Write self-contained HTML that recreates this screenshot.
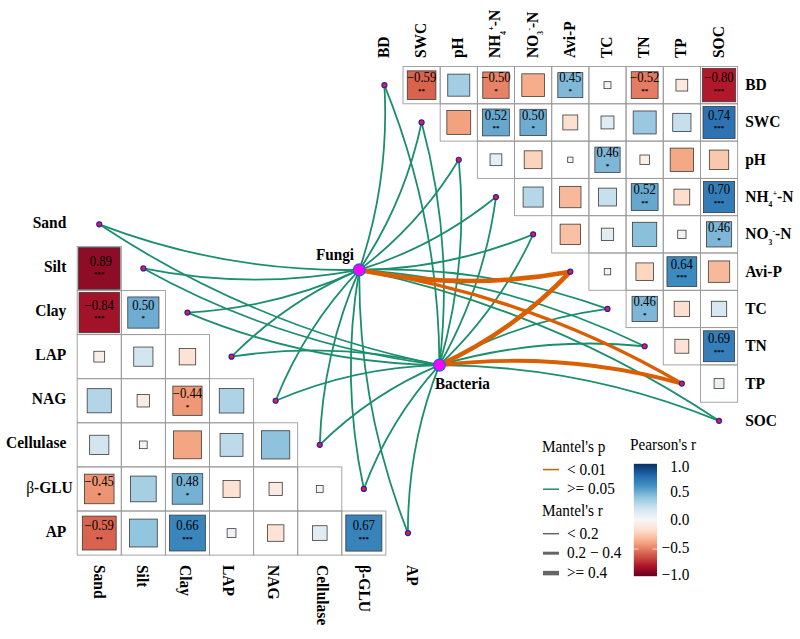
<!DOCTYPE html>
<html><head><meta charset="utf-8"><title>Mantel test correlation heatmap</title>
<style>
html,body{margin:0;padding:0;background:#fff;}
body{width:800px;height:639px;overflow:hidden;}
svg{display:block;}
text{font-family:"Liberation Serif","Times New Roman",serif;fill:#000;}
.v{font-size:12.7px;text-anchor:middle;}
.s{font-size:7px;text-anchor:middle;font-weight:bold;}
.ax{font-size:15.5px;font-weight:bold;}
.sb{font-size:7.5px;}
.sp{font-size:7.5px;}
.nd{font-size:15.2px;font-weight:bold;}
.lg{font-size:15.3px;}
</style></head>
<body>
<svg width="800" height="639" viewBox="0 0 800 639">
<rect width="800" height="639" fill="#fff"/>
<rect x="403.00" y="66.50" width="37.18" height="37.30" fill="none" stroke="#9a9a9a" stroke-width="0.9"/>
<rect x="440.18" y="66.50" width="37.18" height="37.30" fill="none" stroke="#9a9a9a" stroke-width="0.9"/>
<rect x="477.36" y="66.50" width="37.18" height="37.30" fill="none" stroke="#9a9a9a" stroke-width="0.9"/>
<rect x="514.54" y="66.50" width="37.18" height="37.30" fill="none" stroke="#9a9a9a" stroke-width="0.9"/>
<rect x="551.72" y="66.50" width="37.18" height="37.30" fill="none" stroke="#9a9a9a" stroke-width="0.9"/>
<rect x="588.90" y="66.50" width="37.18" height="37.30" fill="none" stroke="#9a9a9a" stroke-width="0.9"/>
<rect x="626.08" y="66.50" width="37.18" height="37.30" fill="none" stroke="#9a9a9a" stroke-width="0.9"/>
<rect x="663.26" y="66.50" width="37.18" height="37.30" fill="none" stroke="#9a9a9a" stroke-width="0.9"/>
<rect x="700.44" y="66.50" width="37.18" height="37.30" fill="none" stroke="#9a9a9a" stroke-width="0.9"/>
<rect x="440.18" y="103.80" width="37.18" height="37.30" fill="none" stroke="#9a9a9a" stroke-width="0.9"/>
<rect x="477.36" y="103.80" width="37.18" height="37.30" fill="none" stroke="#9a9a9a" stroke-width="0.9"/>
<rect x="514.54" y="103.80" width="37.18" height="37.30" fill="none" stroke="#9a9a9a" stroke-width="0.9"/>
<rect x="551.72" y="103.80" width="37.18" height="37.30" fill="none" stroke="#9a9a9a" stroke-width="0.9"/>
<rect x="588.90" y="103.80" width="37.18" height="37.30" fill="none" stroke="#9a9a9a" stroke-width="0.9"/>
<rect x="626.08" y="103.80" width="37.18" height="37.30" fill="none" stroke="#9a9a9a" stroke-width="0.9"/>
<rect x="663.26" y="103.80" width="37.18" height="37.30" fill="none" stroke="#9a9a9a" stroke-width="0.9"/>
<rect x="700.44" y="103.80" width="37.18" height="37.30" fill="none" stroke="#9a9a9a" stroke-width="0.9"/>
<rect x="477.36" y="141.10" width="37.18" height="37.30" fill="none" stroke="#9a9a9a" stroke-width="0.9"/>
<rect x="514.54" y="141.10" width="37.18" height="37.30" fill="none" stroke="#9a9a9a" stroke-width="0.9"/>
<rect x="551.72" y="141.10" width="37.18" height="37.30" fill="none" stroke="#9a9a9a" stroke-width="0.9"/>
<rect x="588.90" y="141.10" width="37.18" height="37.30" fill="none" stroke="#9a9a9a" stroke-width="0.9"/>
<rect x="626.08" y="141.10" width="37.18" height="37.30" fill="none" stroke="#9a9a9a" stroke-width="0.9"/>
<rect x="663.26" y="141.10" width="37.18" height="37.30" fill="none" stroke="#9a9a9a" stroke-width="0.9"/>
<rect x="700.44" y="141.10" width="37.18" height="37.30" fill="none" stroke="#9a9a9a" stroke-width="0.9"/>
<rect x="514.54" y="178.40" width="37.18" height="37.30" fill="none" stroke="#9a9a9a" stroke-width="0.9"/>
<rect x="551.72" y="178.40" width="37.18" height="37.30" fill="none" stroke="#9a9a9a" stroke-width="0.9"/>
<rect x="588.90" y="178.40" width="37.18" height="37.30" fill="none" stroke="#9a9a9a" stroke-width="0.9"/>
<rect x="626.08" y="178.40" width="37.18" height="37.30" fill="none" stroke="#9a9a9a" stroke-width="0.9"/>
<rect x="663.26" y="178.40" width="37.18" height="37.30" fill="none" stroke="#9a9a9a" stroke-width="0.9"/>
<rect x="700.44" y="178.40" width="37.18" height="37.30" fill="none" stroke="#9a9a9a" stroke-width="0.9"/>
<rect x="551.72" y="215.70" width="37.18" height="37.30" fill="none" stroke="#9a9a9a" stroke-width="0.9"/>
<rect x="588.90" y="215.70" width="37.18" height="37.30" fill="none" stroke="#9a9a9a" stroke-width="0.9"/>
<rect x="626.08" y="215.70" width="37.18" height="37.30" fill="none" stroke="#9a9a9a" stroke-width="0.9"/>
<rect x="663.26" y="215.70" width="37.18" height="37.30" fill="none" stroke="#9a9a9a" stroke-width="0.9"/>
<rect x="700.44" y="215.70" width="37.18" height="37.30" fill="none" stroke="#9a9a9a" stroke-width="0.9"/>
<rect x="588.90" y="253.00" width="37.18" height="37.30" fill="none" stroke="#9a9a9a" stroke-width="0.9"/>
<rect x="626.08" y="253.00" width="37.18" height="37.30" fill="none" stroke="#9a9a9a" stroke-width="0.9"/>
<rect x="663.26" y="253.00" width="37.18" height="37.30" fill="none" stroke="#9a9a9a" stroke-width="0.9"/>
<rect x="700.44" y="253.00" width="37.18" height="37.30" fill="none" stroke="#9a9a9a" stroke-width="0.9"/>
<rect x="626.08" y="290.30" width="37.18" height="37.30" fill="none" stroke="#9a9a9a" stroke-width="0.9"/>
<rect x="663.26" y="290.30" width="37.18" height="37.30" fill="none" stroke="#9a9a9a" stroke-width="0.9"/>
<rect x="700.44" y="290.30" width="37.18" height="37.30" fill="none" stroke="#9a9a9a" stroke-width="0.9"/>
<rect x="663.26" y="327.60" width="37.18" height="37.30" fill="none" stroke="#9a9a9a" stroke-width="0.9"/>
<rect x="700.44" y="327.60" width="37.18" height="37.30" fill="none" stroke="#9a9a9a" stroke-width="0.9"/>
<rect x="700.44" y="364.90" width="37.18" height="37.30" fill="none" stroke="#9a9a9a" stroke-width="0.9"/>
<rect x="407.29" y="70.85" width="28.60" height="28.60" fill="#d86450" stroke="#3a3a3a" stroke-width="0.8"/>
<text transform="translate(421.59 82.35) scale(1 1.1)" class="v">−0.59</text>
<text x="421.59" y="92.95" class="s">**</text>
<rect x="447.75" y="74.13" width="22.03" height="22.03" fill="#a2cde3" stroke="#3a3a3a" stroke-width="0.8"/>
<rect x="482.78" y="71.98" width="26.33" height="26.33" fill="#e68367" stroke="#3a3a3a" stroke-width="0.8"/>
<text transform="translate(495.95 82.35) scale(1 1.1)" class="v">−0.50</text>
<text x="495.95" y="92.95" class="s">*</text>
<rect x="521.80" y="73.82" width="22.65" height="22.65" fill="#f6ad8c" stroke="#3a3a3a" stroke-width="0.8"/>
<rect x="557.82" y="72.66" width="24.98" height="24.98" fill="#80b8d7" stroke="#3a3a3a" stroke-width="0.8"/>
<text transform="translate(570.31 82.35) scale(1 1.1)" class="v">0.45</text>
<text x="570.31" y="92.95" class="s">*</text>
<rect x="604.01" y="81.67" width="6.97" height="6.97" fill="#f0f4f6" stroke="#3a3a3a" stroke-width="0.8"/>
<rect x="631.24" y="71.72" width="26.85" height="26.85" fill="#e37c62" stroke="#3a3a3a" stroke-width="0.8"/>
<text transform="translate(644.67 82.35) scale(1 1.1)" class="v">−0.52</text>
<text x="644.67" y="92.95" class="s">**</text>
<rect x="675.96" y="79.26" width="11.78" height="11.78" fill="#fbe9df" stroke="#3a3a3a" stroke-width="0.8"/>
<rect x="702.38" y="68.50" width="33.31" height="33.31" fill="#b2182b" stroke="#3a3a3a" stroke-width="0.8"/>
<text transform="translate(719.03 82.35) scale(1 1.1)" class="v">−0.80</text>
<text x="719.03" y="92.95" class="s">***</text>
<rect x="446.85" y="110.53" width="23.85" height="23.85" fill="#f3a27f" stroke="#3a3a3a" stroke-width="0.8"/>
<rect x="482.52" y="109.02" width="26.85" height="26.85" fill="#66a7ce" stroke="#3a3a3a" stroke-width="0.8"/>
<text transform="translate(495.95 119.65) scale(1 1.1)" class="v">0.52</text>
<text x="495.95" y="130.25" class="s">**</text>
<rect x="519.96" y="109.28" width="26.33" height="26.33" fill="#6eacd1" stroke="#3a3a3a" stroke-width="0.8"/>
<text transform="translate(533.13 119.65) scale(1 1.1)" class="v">0.50</text>
<text x="533.13" y="130.25" class="s">*</text>
<rect x="562.86" y="115.00" width="14.90" height="14.90" fill="#fce1d0" stroke="#3a3a3a" stroke-width="0.8"/>
<rect x="601.04" y="116.00" width="12.90" height="12.90" fill="#e0ecf3" stroke="#3a3a3a" stroke-width="0.8"/>
<rect x="633.19" y="110.97" width="22.96" height="22.96" fill="#99c8e0" stroke="#3a3a3a" stroke-width="0.8"/>
<rect x="672.73" y="113.33" width="18.24" height="18.24" fill="#c5dfec" stroke="#3a3a3a" stroke-width="0.8"/>
<rect x="703.01" y="106.43" width="32.04" height="32.04" fill="#2d73b3" stroke="#3a3a3a" stroke-width="0.8"/>
<text transform="translate(719.03 119.65) scale(1 1.1)" class="v">0.74</text>
<text x="719.03" y="130.25" class="s">***</text>
<rect x="490.06" y="153.86" width="11.78" height="11.78" fill="#e4eef4" stroke="#3a3a3a" stroke-width="0.8"/>
<rect x="524.20" y="150.82" width="17.86" height="17.86" fill="#fcd3bc" stroke="#3a3a3a" stroke-width="0.8"/>
<rect x="567.68" y="157.12" width="5.27" height="5.27" fill="#f3f5f6" stroke="#3a3a3a" stroke-width="0.8"/>
<rect x="594.86" y="147.12" width="25.26" height="25.26" fill="#7db6d6" stroke="#3a3a3a" stroke-width="0.8"/>
<text transform="translate(607.49 156.95) scale(1 1.1)" class="v">0.46</text>
<text x="607.49" y="167.55" class="s">*</text>
<rect x="639.92" y="155.00" width="9.49" height="9.49" fill="#faeee7" stroke="#3a3a3a" stroke-width="0.8"/>
<rect x="670.22" y="148.12" width="23.26" height="23.26" fill="#f5a885" stroke="#3a3a3a" stroke-width="0.8"/>
<rect x="709.35" y="150.07" width="19.35" height="19.35" fill="#fbc8ae" stroke="#3a3a3a" stroke-width="0.8"/>
<rect x="523.10" y="187.02" width="20.05" height="20.05" fill="#b5d7e8" stroke="#3a3a3a" stroke-width="0.8"/>
<rect x="559.61" y="186.35" width="21.39" height="21.39" fill="#f8b89a" stroke="#3a3a3a" stroke-width="0.8"/>
<rect x="598.56" y="188.12" width="17.86" height="17.86" fill="#c8e0ed" stroke="#3a3a3a" stroke-width="0.8"/>
<rect x="631.24" y="183.62" width="26.85" height="26.85" fill="#66a7ce" stroke="#3a3a3a" stroke-width="0.8"/>
<text transform="translate(644.67 194.25) scale(1 1.1)" class="v">0.52</text>
<text x="644.67" y="204.85" class="s">**</text>
<rect x="673.95" y="189.15" width="15.80" height="15.80" fill="#fddecc" stroke="#3a3a3a" stroke-width="0.8"/>
<rect x="703.45" y="181.47" width="31.16" height="31.16" fill="#347cb8" stroke="#3a3a3a" stroke-width="0.8"/>
<text transform="translate(719.03 194.25) scale(1 1.1)" class="v">0.70</text>
<text x="719.03" y="204.85" class="s">***</text>
<rect x="560.11" y="224.15" width="20.40" height="20.40" fill="#fac0a4" stroke="#3a3a3a" stroke-width="0.8"/>
<rect x="601.31" y="228.17" width="12.35" height="12.35" fill="#e2edf3" stroke="#3a3a3a" stroke-width="0.8"/>
<rect x="632.60" y="222.28" width="24.13" height="24.13" fill="#8bc0db" stroke="#3a3a3a" stroke-width="0.8"/>
<rect x="677.69" y="230.19" width="8.33" height="8.33" fill="#eef2f5" stroke="#3a3a3a" stroke-width="0.8"/>
<rect x="706.40" y="221.72" width="25.26" height="25.26" fill="#7db6d6" stroke="#3a3a3a" stroke-width="0.8"/>
<text transform="translate(719.03 231.55) scale(1 1.1)" class="v">0.46</text>
<text x="719.03" y="242.15" class="s">*</text>
<rect x="604.26" y="268.42" width="6.45" height="6.45" fill="#f1f4f6" stroke="#3a3a3a" stroke-width="0.8"/>
<rect x="635.94" y="262.92" width="17.47" height="17.47" fill="#fdd6c0" stroke="#3a3a3a" stroke-width="0.8"/>
<rect x="666.95" y="256.75" width="29.79" height="29.79" fill="#3d8abe" stroke="#3a3a3a" stroke-width="0.8"/>
<text transform="translate(681.85 268.85) scale(1 1.1)" class="v">0.64</text>
<text x="681.85" y="279.45" class="s">***</text>
<rect x="708.33" y="260.95" width="21.39" height="21.39" fill="#f8b89a" stroke="#3a3a3a" stroke-width="0.8"/>
<rect x="632.04" y="296.32" width="25.26" height="25.26" fill="#7db6d6" stroke="#3a3a3a" stroke-width="0.8"/>
<text transform="translate(644.67 306.15) scale(1 1.1)" class="v">0.46</text>
<text x="644.67" y="316.75" class="s">*</text>
<rect x="674.17" y="301.27" width="15.35" height="15.35" fill="#fcdfce" stroke="#3a3a3a" stroke-width="0.8"/>
<rect x="711.35" y="301.27" width="15.35" height="15.35" fill="#d7e8f1" stroke="#3a3a3a" stroke-width="0.8"/>
<rect x="674.88" y="339.28" width="13.93" height="13.93" fill="#fce3d5" stroke="#3a3a3a" stroke-width="0.8"/>
<rect x="703.56" y="330.78" width="30.93" height="30.93" fill="#367eb9" stroke="#3a3a3a" stroke-width="0.8"/>
<text transform="translate(719.03 343.45) scale(1 1.1)" class="v">0.69</text>
<text x="719.03" y="354.05" class="s">***</text>
<rect x="714.10" y="378.62" width="9.85" height="9.85" fill="#eaf1f5" stroke="#3a3a3a" stroke-width="0.8"/>
<rect x="77.20" y="246.40" width="44.10" height="44.10" fill="none" stroke="#9a9a9a" stroke-width="0.9"/>
<rect x="77.20" y="290.50" width="44.10" height="44.10" fill="none" stroke="#9a9a9a" stroke-width="0.9"/>
<rect x="121.30" y="290.50" width="44.10" height="44.10" fill="none" stroke="#9a9a9a" stroke-width="0.9"/>
<rect x="77.20" y="334.60" width="44.10" height="44.10" fill="none" stroke="#9a9a9a" stroke-width="0.9"/>
<rect x="121.30" y="334.60" width="44.10" height="44.10" fill="none" stroke="#9a9a9a" stroke-width="0.9"/>
<rect x="165.40" y="334.60" width="44.10" height="44.10" fill="none" stroke="#9a9a9a" stroke-width="0.9"/>
<rect x="77.20" y="378.70" width="44.10" height="44.10" fill="none" stroke="#9a9a9a" stroke-width="0.9"/>
<rect x="121.30" y="378.70" width="44.10" height="44.10" fill="none" stroke="#9a9a9a" stroke-width="0.9"/>
<rect x="165.40" y="378.70" width="44.10" height="44.10" fill="none" stroke="#9a9a9a" stroke-width="0.9"/>
<rect x="209.50" y="378.70" width="44.10" height="44.10" fill="none" stroke="#9a9a9a" stroke-width="0.9"/>
<rect x="77.20" y="422.80" width="44.10" height="44.10" fill="none" stroke="#9a9a9a" stroke-width="0.9"/>
<rect x="121.30" y="422.80" width="44.10" height="44.10" fill="none" stroke="#9a9a9a" stroke-width="0.9"/>
<rect x="165.40" y="422.80" width="44.10" height="44.10" fill="none" stroke="#9a9a9a" stroke-width="0.9"/>
<rect x="209.50" y="422.80" width="44.10" height="44.10" fill="none" stroke="#9a9a9a" stroke-width="0.9"/>
<rect x="253.60" y="422.80" width="44.10" height="44.10" fill="none" stroke="#9a9a9a" stroke-width="0.9"/>
<rect x="77.20" y="466.90" width="44.10" height="44.10" fill="none" stroke="#9a9a9a" stroke-width="0.9"/>
<rect x="121.30" y="466.90" width="44.10" height="44.10" fill="none" stroke="#9a9a9a" stroke-width="0.9"/>
<rect x="165.40" y="466.90" width="44.10" height="44.10" fill="none" stroke="#9a9a9a" stroke-width="0.9"/>
<rect x="209.50" y="466.90" width="44.10" height="44.10" fill="none" stroke="#9a9a9a" stroke-width="0.9"/>
<rect x="253.60" y="466.90" width="44.10" height="44.10" fill="none" stroke="#9a9a9a" stroke-width="0.9"/>
<rect x="297.70" y="466.90" width="44.10" height="44.10" fill="none" stroke="#9a9a9a" stroke-width="0.9"/>
<rect x="77.20" y="511.00" width="44.10" height="44.10" fill="none" stroke="#9a9a9a" stroke-width="0.9"/>
<rect x="121.30" y="511.00" width="44.10" height="44.10" fill="none" stroke="#9a9a9a" stroke-width="0.9"/>
<rect x="165.40" y="511.00" width="44.10" height="44.10" fill="none" stroke="#9a9a9a" stroke-width="0.9"/>
<rect x="209.50" y="511.00" width="44.10" height="44.10" fill="none" stroke="#9a9a9a" stroke-width="0.9"/>
<rect x="253.60" y="511.00" width="44.10" height="44.10" fill="none" stroke="#9a9a9a" stroke-width="0.9"/>
<rect x="297.70" y="511.00" width="44.10" height="44.10" fill="none" stroke="#9a9a9a" stroke-width="0.9"/>
<rect x="341.80" y="511.00" width="44.10" height="44.10" fill="none" stroke="#9a9a9a" stroke-width="0.9"/>
<rect x="78.45" y="247.65" width="41.60" height="41.60" fill="#8f0c26" stroke="#3a3a3a" stroke-width="0.8"/>
<text transform="translate(100.85 265.65) scale(1 1.1)" class="v">0.89</text>
<text x="99.25" y="276.25" class="s">***</text>
<rect x="79.04" y="292.34" width="40.42" height="40.42" fill="#a21329" stroke="#3a3a3a" stroke-width="0.8"/>
<text transform="translate(99.25 309.75) scale(1 1.1)" class="v">−0.84</text>
<text x="99.25" y="320.35" class="s">***</text>
<rect x="127.76" y="296.96" width="31.18" height="31.18" fill="#6eacd1" stroke="#3a3a3a" stroke-width="0.8"/>
<text transform="translate(143.35 309.75) scale(1 1.1)" class="v">0.50</text>
<text x="143.35" y="320.35" class="s">*</text>
<rect x="93.85" y="351.25" width="10.80" height="10.80" fill="#f9efe8" stroke="#3a3a3a" stroke-width="0.8"/>
<rect x="133.74" y="347.04" width="19.22" height="19.22" fill="#d3e6f0" stroke="#3a3a3a" stroke-width="0.8"/>
<rect x="179.20" y="348.40" width="16.50" height="16.50" fill="#fce3d5" stroke="#3a3a3a" stroke-width="0.8"/>
<rect x="87.17" y="388.67" width="24.15" height="24.15" fill="#b2d5e7" stroke="#3a3a3a" stroke-width="0.8"/>
<rect x="137.11" y="394.51" width="12.47" height="12.47" fill="#faece4" stroke="#3a3a3a" stroke-width="0.8"/>
<rect x="172.82" y="386.12" width="29.25" height="29.25" fill="#ef9777" stroke="#3a3a3a" stroke-width="0.8"/>
<text transform="translate(187.45 397.95) scale(1 1.1)" class="v">−0.44</text>
<text x="187.45" y="408.55" class="s">*</text>
<rect x="219.27" y="388.47" width="24.55" height="24.55" fill="#afd3e6" stroke="#3a3a3a" stroke-width="0.8"/>
<rect x="89.64" y="435.24" width="19.22" height="19.22" fill="#d3e6f0" stroke="#3a3a3a" stroke-width="0.8"/>
<rect x="139.53" y="441.03" width="7.64" height="7.64" fill="#f1f4f6" stroke="#3a3a3a" stroke-width="0.8"/>
<rect x="173.50" y="430.90" width="27.89" height="27.89" fill="#f4a582" stroke="#3a3a3a" stroke-width="0.8"/>
<rect x="220.09" y="433.39" width="22.92" height="22.92" fill="#bcdaea" stroke="#3a3a3a" stroke-width="0.8"/>
<rect x="261.53" y="430.73" width="28.24" height="28.24" fill="#8fc2dd" stroke="#3a3a3a" stroke-width="0.8"/>
<rect x="84.46" y="474.16" width="29.58" height="29.58" fill="#ed9474" stroke="#3a3a3a" stroke-width="0.8"/>
<text transform="translate(99.25 486.15) scale(1 1.1)" class="v">−0.45</text>
<text x="99.25" y="496.75" class="s">*</text>
<rect x="130.49" y="476.09" width="25.71" height="25.71" fill="#a6cfe3" stroke="#3a3a3a" stroke-width="0.8"/>
<rect x="172.17" y="473.67" width="30.55" height="30.55" fill="#75b1d3" stroke="#3a3a3a" stroke-width="0.8"/>
<text transform="translate(187.45 486.15) scale(1 1.1)" class="v">0.48</text>
<text x="187.45" y="496.75" class="s">*</text>
<rect x="223.01" y="480.41" width="17.08" height="17.08" fill="#fce2d3" stroke="#3a3a3a" stroke-width="0.8"/>
<rect x="269.04" y="482.34" width="13.23" height="13.23" fill="#faeae1" stroke="#3a3a3a" stroke-width="0.8"/>
<rect x="316.33" y="485.53" width="6.83" height="6.83" fill="#f3f5f6" stroke="#3a3a3a" stroke-width="0.8"/>
<rect x="82.31" y="516.11" width="33.87" height="33.87" fill="#d86450" stroke="#3a3a3a" stroke-width="0.8"/>
<text transform="translate(99.25 530.25) scale(1 1.1)" class="v">−0.59</text>
<text x="99.25" y="540.85" class="s">**</text>
<rect x="129.40" y="519.10" width="27.89" height="27.89" fill="#92c5de" stroke="#3a3a3a" stroke-width="0.8"/>
<rect x="169.54" y="515.14" width="35.83" height="35.83" fill="#3a85bc" stroke="#3a3a3a" stroke-width="0.8"/>
<text transform="translate(187.45 530.25) scale(1 1.1)" class="v">0.66</text>
<text x="187.45" y="540.85" class="s">***</text>
<rect x="227.14" y="528.64" width="8.82" height="8.82" fill="#eff3f6" stroke="#3a3a3a" stroke-width="0.8"/>
<rect x="267.40" y="524.80" width="16.50" height="16.50" fill="#fce3d5" stroke="#3a3a3a" stroke-width="0.8"/>
<rect x="312.44" y="525.74" width="14.63" height="14.63" fill="#e2edf3" stroke="#3a3a3a" stroke-width="0.8"/>
<rect x="345.80" y="515.00" width="36.10" height="36.10" fill="#3983bb" stroke="#3a3a3a" stroke-width="0.8"/>
<text transform="translate(363.85 530.25) scale(1 1.1)" class="v">0.67</text>
<text x="363.85" y="540.85" class="s">***</text>
<path d="M359.30 269.90 A490.02 490.02 0 0 0 384.41 85.15" fill="none" stroke="#1b8f6c" stroke-width="1.80"/>
<path d="M359.30 269.90 A420.68 420.68 0 0 0 421.59 122.45" fill="none" stroke="#1b8f6c" stroke-width="1.80"/>
<path d="M359.30 269.90 A390.06 390.06 0 0 0 458.77 159.75" fill="none" stroke="#1b8f6c" stroke-width="1.80"/>
<path d="M359.30 269.90 A406.99 406.99 0 0 0 495.95 197.05" fill="none" stroke="#1b8f6c" stroke-width="1.80"/>
<path d="M359.30 269.90 A466.31 466.31 0 0 0 533.13 234.35" fill="none" stroke="#1b8f6c" stroke-width="1.80"/>
<path d="M359.30 269.90 A660.31 660.31 0 0 1 607.49 308.95" fill="none" stroke="#1b8f6c" stroke-width="1.80"/>
<path d="M359.30 269.90 A776.38 776.38 0 0 1 644.67 346.25" fill="none" stroke="#1b8f6c" stroke-width="1.80"/>
<path d="M359.30 269.90 A1025.29 1025.29 0 0 1 719.03 420.85" fill="none" stroke="#1b8f6c" stroke-width="1.80"/>
<path d="M359.30 269.90 A693.86 693.86 0 0 1 99.25 224.35" fill="none" stroke="#1b8f6c" stroke-width="1.80"/>
<path d="M359.30 269.90 A567.57 567.57 0 0 1 143.35 268.45" fill="none" stroke="#1b8f6c" stroke-width="1.80"/>
<path d="M359.30 269.90 A465.35 465.35 0 0 1 187.45 312.55" fill="none" stroke="#1b8f6c" stroke-width="1.80"/>
<path d="M359.30 269.90 A405.84 405.84 0 0 0 231.55 356.65" fill="none" stroke="#1b8f6c" stroke-width="1.80"/>
<path d="M359.30 269.90 A408.16 408.16 0 0 0 275.65 400.75" fill="none" stroke="#1b8f6c" stroke-width="1.80"/>
<path d="M359.30 269.90 A471.40 471.40 0 0 0 319.75 444.85" fill="none" stroke="#1b8f6c" stroke-width="1.80"/>
<path d="M359.30 269.90 A575.82 575.82 0 0 0 363.85 488.95" fill="none" stroke="#1b8f6c" stroke-width="1.80"/>
<path d="M359.30 269.90 A703.32 703.32 0 0 0 407.95 533.05" fill="none" stroke="#1b8f6c" stroke-width="1.80"/>
<path d="M439.40 365.10 A749.82 749.82 0 0 0 384.41 85.15" fill="none" stroke="#1b8f6c" stroke-width="1.80"/>
<path d="M439.40 365.10 A639.44 639.44 0 0 0 421.59 122.45" fill="none" stroke="#1b8f6c" stroke-width="1.80"/>
<path d="M439.40 365.10 A542.09 542.09 0 0 0 458.77 159.75" fill="none" stroke="#1b8f6c" stroke-width="1.80"/>
<path d="M439.40 365.10 A466.00 466.00 0 0 0 495.95 197.05" fill="none" stroke="#1b8f6c" stroke-width="1.80"/>
<path d="M439.40 365.10 A422.81 422.81 0 0 0 533.13 234.35" fill="none" stroke="#1b8f6c" stroke-width="1.80"/>
<path d="M439.40 365.10 A465.76 465.76 0 0 1 607.49 308.95" fill="none" stroke="#1b8f6c" stroke-width="1.80"/>
<path d="M439.40 365.10 A541.75 541.75 0 0 1 644.67 346.25" fill="none" stroke="#1b8f6c" stroke-width="1.80"/>
<path d="M439.40 365.10 A749.38 749.38 0 0 1 719.03 420.85" fill="none" stroke="#1b8f6c" stroke-width="1.80"/>
<path d="M439.40 365.10 A967.48 967.48 0 0 1 99.25 224.35" fill="none" stroke="#1b8f6c" stroke-width="1.80"/>
<path d="M439.40 365.10 A818.48 818.48 0 0 1 143.35 268.45" fill="none" stroke="#1b8f6c" stroke-width="1.80"/>
<path d="M439.40 365.10 A676.42 676.42 0 0 1 187.45 312.55" fill="none" stroke="#1b8f6c" stroke-width="1.80"/>
<path d="M439.40 365.10 A546.72 546.72 0 0 0 231.55 356.65" fill="none" stroke="#1b8f6c" stroke-width="1.80"/>
<path d="M439.40 365.10 A440.44 440.44 0 0 0 275.65 400.75" fill="none" stroke="#1b8f6c" stroke-width="1.80"/>
<path d="M439.40 365.10 A377.91 377.91 0 0 0 319.75 444.85" fill="none" stroke="#1b8f6c" stroke-width="1.80"/>
<path d="M439.40 365.10 A381.28 381.28 0 0 0 363.85 488.95" fill="none" stroke="#1b8f6c" stroke-width="1.80"/>
<path d="M439.40 365.10 A449.07 449.07 0 0 0 407.95 533.05" fill="none" stroke="#1b8f6c" stroke-width="1.80"/>
<path d="M359.30 269.90 A554.59 554.59 0 0 0 570.31 271.65" fill="none" stroke="#d95f02" stroke-width="4.60"/>
<path d="M359.30 269.90 A898.80 898.80 0 0 1 681.85 383.55" fill="none" stroke="#d95f02" stroke-width="3.40"/>
<path d="M439.40 365.10 A422.72 422.72 0 0 0 570.31 271.65" fill="none" stroke="#d95f02" stroke-width="4.60"/>
<path d="M439.40 365.10 A639.04 639.04 0 0 1 681.85 383.55" fill="none" stroke="#d95f02" stroke-width="3.80"/>
<circle cx="384.41" cy="85.15" r="2.5" fill="#ee1c25" stroke="#2020c0" stroke-width="1.2"/>
<circle cx="421.59" cy="122.45" r="2.5" fill="#ee1c25" stroke="#2020c0" stroke-width="1.2"/>
<circle cx="458.77" cy="159.75" r="2.5" fill="#ee1c25" stroke="#2020c0" stroke-width="1.2"/>
<circle cx="495.95" cy="197.05" r="2.5" fill="#ee1c25" stroke="#2020c0" stroke-width="1.2"/>
<circle cx="533.13" cy="234.35" r="2.5" fill="#ee1c25" stroke="#2020c0" stroke-width="1.2"/>
<circle cx="570.31" cy="271.65" r="2.5" fill="#ee1c25" stroke="#2020c0" stroke-width="1.2"/>
<circle cx="607.49" cy="308.95" r="2.5" fill="#ee1c25" stroke="#2020c0" stroke-width="1.2"/>
<circle cx="644.67" cy="346.25" r="2.5" fill="#ee1c25" stroke="#2020c0" stroke-width="1.2"/>
<circle cx="681.85" cy="383.55" r="2.5" fill="#ee1c25" stroke="#2020c0" stroke-width="1.2"/>
<circle cx="719.03" cy="420.85" r="2.5" fill="#ee1c25" stroke="#2020c0" stroke-width="1.2"/>
<circle cx="99.25" cy="224.35" r="2.5" fill="#ee1c25" stroke="#2020c0" stroke-width="1.2"/>
<circle cx="143.35" cy="268.45" r="2.5" fill="#ee1c25" stroke="#2020c0" stroke-width="1.2"/>
<circle cx="187.45" cy="312.55" r="2.5" fill="#ee1c25" stroke="#2020c0" stroke-width="1.2"/>
<circle cx="231.55" cy="356.65" r="2.5" fill="#ee1c25" stroke="#2020c0" stroke-width="1.2"/>
<circle cx="275.65" cy="400.75" r="2.5" fill="#ee1c25" stroke="#2020c0" stroke-width="1.2"/>
<circle cx="319.75" cy="444.85" r="2.5" fill="#ee1c25" stroke="#2020c0" stroke-width="1.2"/>
<circle cx="363.85" cy="488.95" r="2.5" fill="#ee1c25" stroke="#2020c0" stroke-width="1.2"/>
<circle cx="407.95" cy="533.05" r="2.5" fill="#ee1c25" stroke="#2020c0" stroke-width="1.2"/>
<circle cx="359.30" cy="269.90" r="5.9" fill="#ff00ff" stroke="#2a5fd0" stroke-width="1.3"/>
<circle cx="439.40" cy="365.10" r="5.9" fill="#ff00ff" stroke="#2a5fd0" stroke-width="1.3"/>
<text transform="translate(316 260.3) scale(1 1.08)" class="nd">Fungi</text>
<text transform="translate(435 388.6) scale(1 1.08)" class="nd">Bacteria</text>
<text transform="translate(388.91 58) rotate(-90) scale(1 1.07)" class="ax">BD</text>
<text transform="translate(745.2 90.15) scale(1 1.07)" class="ax">BD</text>
<text transform="translate(426.09 58) rotate(-90) scale(1 1.07)" class="ax">SWC</text>
<text transform="translate(745.2 127.45) scale(1 1.07)" class="ax">SWC</text>
<text transform="translate(463.27 58) rotate(-90) scale(1 1.07)" class="ax">pH</text>
<text transform="translate(745.2 164.75) scale(1 1.07)" class="ax">pH</text>
<text transform="translate(500.45 58) rotate(-90) scale(1 1.07)" class="ax">NH<tspan class="sb" dy="4.9">4</tspan><tspan class="sp" dx="0.6" dy="-10.7">+</tspan><tspan dy="5.8">-N</tspan></text>
<text transform="translate(745.2 202.05) scale(1 1.07)" class="ax">NH<tspan class="sb" dy="4.9">4</tspan><tspan class="sp" dx="0.6" dy="-10.7">+</tspan><tspan dy="5.8">-N</tspan></text>
<text transform="translate(537.63 58) rotate(-90) scale(1 1.07)" class="ax">NO<tspan class="sb" dy="5.2">3</tspan><tspan class="sp" dx="0.4" dy="-10.0">-</tspan><tspan dy="4.8">-N</tspan></text>
<text transform="translate(745.2 239.35) scale(1 1.07)" class="ax">NO<tspan class="sb" dy="5.2">3</tspan><tspan class="sp" dx="0.4" dy="-10.0">-</tspan><tspan dy="4.8">-N</tspan></text>
<text transform="translate(574.81 58) rotate(-90) scale(1 1.07)" class="ax">Avi-P</text>
<text transform="translate(745.2 276.65) scale(1 1.07)" class="ax">Avi-P</text>
<text transform="translate(611.99 58) rotate(-90) scale(1 1.07)" class="ax">TC</text>
<text transform="translate(745.2 313.95) scale(1 1.07)" class="ax">TC</text>
<text transform="translate(649.17 58) rotate(-90) scale(1 1.07)" class="ax">TN</text>
<text transform="translate(745.2 351.25) scale(1 1.07)" class="ax">TN</text>
<text transform="translate(686.35 58) rotate(-90) scale(1 1.07)" class="ax">TP</text>
<text transform="translate(745.2 388.55) scale(1 1.07)" class="ax">TP</text>
<text transform="translate(723.53 58) rotate(-90) scale(1 1.07)" class="ax">SOC</text>
<text transform="translate(745.2 425.85) scale(1 1.07)" class="ax">SOC</text>
<text transform="translate(66.3 227.95) scale(1 1.07)" class="ax" text-anchor="end">Sand</text>
<text transform="translate(94.35 565) rotate(90) scale(1 1.07)" class="ax">Sand</text>
<text transform="translate(66.3 272.05) scale(1 1.07)" class="ax" text-anchor="end">Silt</text>
<text transform="translate(137.35 565) rotate(90) scale(1 1.07)" class="ax">Silt</text>
<text transform="translate(66.3 316.15) scale(1 1.07)" class="ax" text-anchor="end">Clay</text>
<text transform="translate(180.15 565) rotate(90) scale(1 1.07)" class="ax">Clay</text>
<text transform="translate(66.3 360.25) scale(1 1.07)" class="ax" text-anchor="end">LAP</text>
<text transform="translate(222.65 565) rotate(90) scale(1 1.07)" class="ax">LAP</text>
<text transform="translate(66.3 404.35) scale(1 1.07)" class="ax" text-anchor="end">NAG</text>
<text transform="translate(268.25 565) rotate(90) scale(1 1.07)" class="ax">NAG</text>
<text transform="translate(66.3 448.45) scale(1 1.07)" class="ax" text-anchor="end">Cellulase</text>
<text transform="translate(316.65 565) rotate(90) scale(1 1.07)" class="ax">Cellulase</text>
<text transform="translate(72.8 492.55) scale(1 1.07)" class="ax" text-anchor="end"><tspan style="font-weight:normal">β</tspan>-GLU</text>
<text transform="translate(358.65 565) rotate(90) scale(1 1.07)" class="ax">β-GLU</text>
<text transform="translate(66.3 536.65) scale(1 1.07)" class="ax" text-anchor="end">AP</text>
<text transform="translate(407.15 565) rotate(90) scale(1 1.07)" class="ax">AP</text>
<text transform="translate(542 452.3) scale(1 1.06)" class="lg">Mantel's p</text>
<line x1="543" y1="469.6" x2="559" y2="469.6" stroke="#d95f02" stroke-width="1.5"/>
<text transform="translate(567 474.5) scale(1 1.06)" class="lg">&lt; 0.01</text>
<line x1="543" y1="489.2" x2="559" y2="489.2" stroke="#1b8f6c" stroke-width="1.5"/>
<text transform="translate(567 494) scale(1 1.06)" class="lg">&gt;= 0.05</text>
<text transform="translate(542 516.3) scale(1 1.06)" class="lg">Mantel's r</text>
<line x1="543" y1="533.7" x2="559" y2="533.7" stroke="#666666" stroke-width="1.5"/>
<text transform="translate(567 538.5) scale(1 1.06)" class="lg">&lt; 0.2</text>
<line x1="543" y1="553.2" x2="559" y2="553.2" stroke="#666666" stroke-width="3.0"/>
<text transform="translate(567 558.0) scale(1 1.06)" class="lg">0.2 − 0.4</text>
<line x1="543" y1="573.1" x2="559" y2="573.1" stroke="#666666" stroke-width="4.5"/>
<text transform="translate(567 577.9) scale(1 1.06)" class="lg">&gt;= 0.4</text>
<text transform="translate(630 450) scale(1 1.06)" class="lg">Pearson's r</text>
<defs><linearGradient id="cb" x1="0" y1="0" x2="0" y2="1"><stop offset="0.000" stop-color="#053061"/><stop offset="0.025" stop-color="#0c3d73"/><stop offset="0.050" stop-color="#134a86"/><stop offset="0.075" stop-color="#1a5899"/><stop offset="0.100" stop-color="#2166ac"/><stop offset="0.125" stop-color="#2b71b2"/><stop offset="0.150" stop-color="#347cb8"/><stop offset="0.175" stop-color="#3c88bd"/><stop offset="0.200" stop-color="#4393c3"/><stop offset="0.225" stop-color="#5a9fca"/><stop offset="0.250" stop-color="#6eacd1"/><stop offset="0.275" stop-color="#80b8d7"/><stop offset="0.300" stop-color="#92c5de"/><stop offset="0.325" stop-color="#a2cde3"/><stop offset="0.350" stop-color="#b2d5e7"/><stop offset="0.375" stop-color="#c2ddec"/><stop offset="0.400" stop-color="#d1e5f0"/><stop offset="0.425" stop-color="#dbe9f2"/><stop offset="0.450" stop-color="#e4eef4"/><stop offset="0.475" stop-color="#eef2f5"/><stop offset="0.500" stop-color="#f7f7f7"/><stop offset="0.525" stop-color="#f9f0eb"/><stop offset="0.550" stop-color="#fbe9df"/><stop offset="0.575" stop-color="#fce2d3"/><stop offset="0.600" stop-color="#fddbc7"/><stop offset="0.625" stop-color="#fccdb5"/><stop offset="0.650" stop-color="#fac0a4"/><stop offset="0.675" stop-color="#f7b293"/><stop offset="0.700" stop-color="#f4a582"/><stop offset="0.725" stop-color="#ed9474"/><stop offset="0.750" stop-color="#e68367"/><stop offset="0.775" stop-color="#de725a"/><stop offset="0.800" stop-color="#d6604d"/><stop offset="0.825" stop-color="#cd5144"/><stop offset="0.850" stop-color="#c4413c"/><stop offset="0.875" stop-color="#bb2f33"/><stop offset="0.900" stop-color="#b2182b"/><stop offset="0.925" stop-color="#9f1128"/><stop offset="0.950" stop-color="#8c0a25"/><stop offset="0.975" stop-color="#790422"/><stop offset="1.000" stop-color="#67001f"/></linearGradient></defs>
<rect x="633.8" y="463.8" width="23.2" height="112.4" fill="url(#cb)"/>
<text transform="translate(689.3 471.50) scale(1 1.06)" class="lg" text-anchor="end">1.0</text>
<text transform="translate(689.3 497.30) scale(1 1.06)" class="lg" text-anchor="end">0.5</text>
<text transform="translate(689.3 525.00) scale(1 1.06)" class="lg" text-anchor="end">0.0</text>
<line x1="633.8" y1="549.00" x2="638.5" y2="549.00" stroke="#f6e0d0" stroke-width="0.9"/>
<line x1="652.3" y1="549.00" x2="657" y2="549.00" stroke="#f6e0d0" stroke-width="0.9"/>
<text transform="translate(689.3 553.00) scale(1 1.06)" class="lg" text-anchor="end">−0.5</text>
<text transform="translate(689.3 579.60) scale(1 1.06)" class="lg" text-anchor="end">−1.0</text>
</svg>
</body></html>
